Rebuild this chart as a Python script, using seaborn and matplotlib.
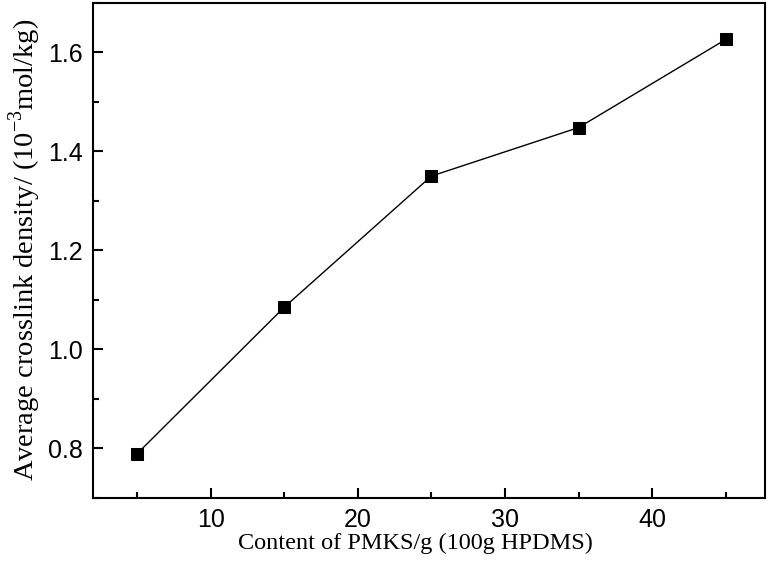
import matplotlib
matplotlib.use("Agg")
import matplotlib.pyplot as plt
from matplotlib.ticker import MultipleLocator
import pandas as pd
import seaborn as sns

# values
content = [5, 15, 25, 35, 45]
density = [0.789, 1.085, 1.350, 1.448, 1.626]

sns.set_style("ticks")
plt.rcParams['font.family'] = ['Liberation Sans', 'DejaVu Sans']
plt.rcParams['text.color'] = 'black'
plt.rcParams['axes.labelcolor'] = 'black'
plt.rcParams['xtick.color'] = 'black'
plt.rcParams['ytick.color'] = 'black'
plt.rcParams['axes.edgecolor'] = 'black'

df = pd.DataFrame({"content": content, "density": density})

fig = plt.figure(figsize=(7.74, 5.67), dpi=100)
ax = fig.add_axes([0.120, 0.122, 0.869, 0.873])

sns.lineplot(data=df, x="content", y="density", ax=ax, color="black",
             linewidth=1.0, marker="s", markersize=8, markeredgecolor="black",
             markerfacecolor="black")

ax.set_xlim(2, 47.7)
ax.set_ylim(0.7, 1.7)
ax.xaxis.set_major_locator(MultipleLocator(10))
ax.xaxis.set_minor_locator(MultipleLocator(5))
ax.yaxis.set_major_locator(MultipleLocator(0.2))
ax.yaxis.set_minor_locator(MultipleLocator(0.1))
ax.yaxis.set_major_formatter(plt.FormatStrFormatter('%.1f'))

ax.tick_params(which="major", direction="in", length=7, width=1.5, labelsize=18,
               pad=7, top=False, right=False)
ax.tick_params(which="minor", direction="in", length=4, width=1.5,
               top=False, right=False)
for s in ax.spines.values():
    s.set_linewidth(1.5)
    s.set_visible(True)

ax.set_xlabel("Content of PMKS/g (100g HPDMS)", family="Liberation Serif",
              fontsize=17.5, labelpad=1)
ax.xaxis.label.set_x(0.48)
ax.set_ylabel(r"Average crosslink density/ (10$^{\mathregular{-3}}$mol/kg)",
              family="Liberation Serif", fontsize=20.5, labelpad=4)

fig.savefig("out.png", dpi=100)
